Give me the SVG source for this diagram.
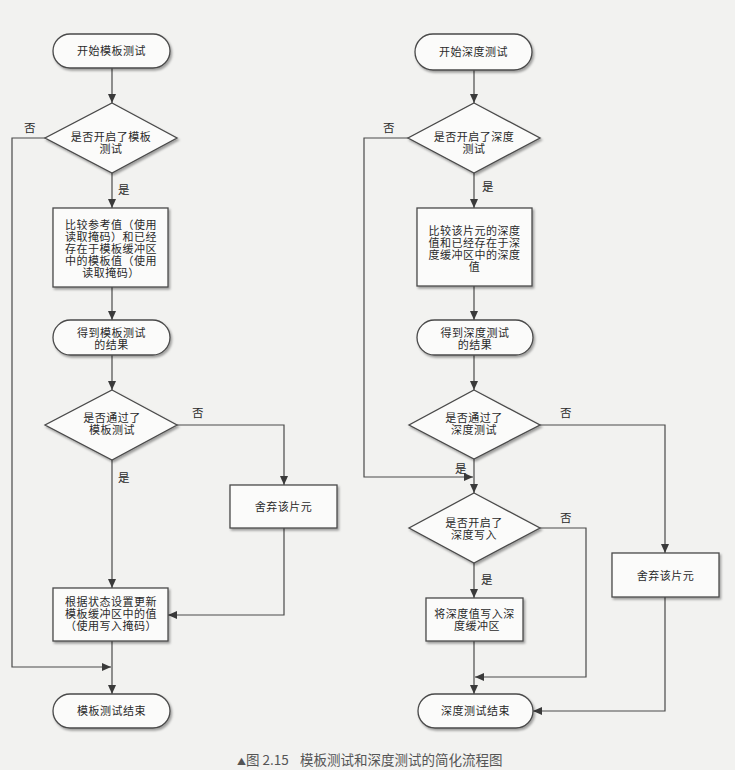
<svg xmlns="http://www.w3.org/2000/svg" width="735" height="770" viewBox="0 0 735 770">
  <style>
    .box { fill: #fbfbfa; stroke: #4a4a4a; stroke-width: 1.3; filter: url(#shadow); }
    .lbl { font-family: "Noto Sans CJK SC", "Noto Sans", sans-serif; font-size: 11px; letter-spacing: 0.5px; fill: #2a2a2a; text-anchor: middle; }
    .note { font-family: "Noto Sans CJK SC", "Noto Sans", sans-serif; font-size: 11.5px; fill: #2a2a2a; }
    .cap { font-family: "Noto Sans CJK SC", "Noto Sans", sans-serif; font-size: 13.5px; fill: #555; }
    .edge { fill: none; stroke: #4a4a4a; stroke-width: 1.2; }
  </style>
  <defs>
    <filter id="shadow" x="-10%" y="-10%" width="130%" height="140%">
      <feDropShadow dx="1.5" dy="2" stdDeviation="1.2" flood-color="#000" flood-opacity="0.35"/>
    </filter>
    <marker id="arrow" markerUnits="userSpaceOnUse" markerWidth="9" markerHeight="8" refX="9" refY="4" orient="auto">
      <path d="M0,0 L9,4 L0,8 z" fill="#3a3a3a"/>
    </marker>
  </defs>

  <rect width="735" height="770" fill="#f2f2f0"/>

  <!-- connectors -->
  <g id="connectors">
    <!-- stencil flow -->
    <path class="edge" d="M112,68 V103" marker-end="url(#arrow)"/>
    <path class="edge" d="M112,173 V208" marker-end="url(#arrow)"/>
    <path class="edge" d="M112,287 V320" marker-end="url(#arrow)"/>
    <path class="edge" d="M112,355 V390" marker-end="url(#arrow)"/>
    <path class="edge" d="M112,460 V588" marker-end="url(#arrow)"/>
    <path class="edge" d="M177,425 H284 V485" marker-end="url(#arrow)"/>
    <path class="edge" d="M284,528 V615 H168" marker-end="url(#arrow)"/>
    <path class="edge" d="M112,641 V694" marker-end="url(#arrow)"/>
    <path class="edge" d="M45,138 H12 V667 H111" marker-end="url(#arrow)"/>
    <!-- depth flow -->
    <path class="edge" d="M474,70 V103" marker-end="url(#arrow)"/>
    <path class="edge" d="M474,173 V208" marker-end="url(#arrow)"/>
    <path class="edge" d="M474,286 V320" marker-end="url(#arrow)"/>
    <path class="edge" d="M474,355 V390" marker-end="url(#arrow)"/>
    <path class="edge" d="M474,459 V493" marker-end="url(#arrow)"/>
    <path class="edge" d="M408,138 H364 V477 H473" marker-end="url(#arrow)"/>
    <path class="edge" d="M540,425 H665 V553" marker-end="url(#arrow)"/>
    <path class="edge" d="M474,563 V598" marker-end="url(#arrow)"/>
    <path class="edge" d="M540,528 H586 V677 H475" marker-end="url(#arrow)"/>
    <path class="edge" d="M474,641 V694" marker-end="url(#arrow)"/>
    <path class="edge" d="M665,597 V711 H533" marker-end="url(#arrow)"/>

    <!-- branch labels -->
    <text class="note" x="24" y="132">否</text>
    <text class="note" x="118" y="194">是</text>
    <text class="note" x="192" y="417">否</text>
    <text class="note" x="118" y="482">是</text>
    <text class="note" x="383" y="132">否</text>
    <text class="note" x="482" y="191">是</text>
    <text class="note" x="560" y="417">否</text>
    <text class="note" x="455" y="473">是</text>
    <text class="note" x="560" y="522">否</text>
    <text class="note" x="481" y="584">是</text>
  </g>

  <!-- stencil test column -->
  <g id="stencil-start">
    <rect class="box" x="53" y="34" width="117" height="34" rx="17"/>
    <text class="lbl" x="111.5" y="55">开始模板测试</text>
  </g>
  <g id="stencil-enabled">
    <polygon class="box" points="112,103 177,138 112,173 45,138"/>
    <text class="lbl" y="140.5"><tspan x="111">是否开启了模板</tspan><tspan x="111" dy="12">测试</tspan></text>
  </g>
  <g id="stencil-compare">
    <rect class="box" x="53" y="208" width="115" height="79"/>
    <text class="lbl" y="228.5"><tspan x="111">比较参考值（使用</tspan><tspan x="111" dy="12">读取掩码）和已经</tspan><tspan x="111" dy="12">存在于模板缓冲区</tspan><tspan x="111" dy="12">中的模板值（使用</tspan><tspan x="111" dy="12">读取掩码）</tspan></text>
  </g>
  <g id="stencil-result">
    <rect class="box" x="53" y="320" width="117" height="35" rx="17.5"/>
    <text class="lbl" y="336.5"><tspan x="111.5">得到模板测试</tspan><tspan x="111.5" dy="12">的结果</tspan></text>
  </g>
  <g id="stencil-passed">
    <polygon class="box" points="112,390 177,425 112,460 45,425"/>
    <text class="lbl" y="422"><tspan x="112">是否通过了</tspan><tspan x="112" dy="12">模板测试</tspan></text>
  </g>
  <g id="stencil-discard">
    <rect class="box" x="230" y="485" width="107" height="43"/>
    <text class="lbl" x="283.5" y="511">舍弃该片元</text>
  </g>
  <g id="stencil-update">
    <rect class="box" x="53" y="588" width="115" height="53"/>
    <text class="lbl" y="606"><tspan x="111">根据状态设置更新</tspan><tspan x="111" dy="12">模板缓冲区中的值</tspan><tspan x="111" dy="12">（使用写入掩码）</tspan></text>
  </g>
  <g id="stencil-end">
    <rect class="box" x="53" y="694" width="117" height="34" rx="17"/>
    <text class="lbl" x="111.5" y="715">模板测试结束</text>
  </g>

  <!-- depth test column -->
  <g id="depth-start">
    <rect class="box" x="415" y="34" width="117" height="36" rx="18"/>
    <text class="lbl" x="473.5" y="56">开始深度测试</text>
  </g>
  <g id="depth-enabled">
    <polygon class="box" points="474,103 540,138 474,173 408,138"/>
    <text class="lbl" y="140.5"><tspan x="474">是否开启了深度</tspan><tspan x="474" dy="12">测试</tspan></text>
  </g>
  <g id="depth-compare">
    <rect class="box" x="417" y="208" width="115" height="78"/>
    <text class="lbl" y="235"><tspan x="474.5">比较该片元的深度</tspan><tspan x="474.5" dy="12">值和已经存在于深</tspan><tspan x="474.5" dy="12">度缓冲区中的深度</tspan><tspan x="474.5" dy="12">值</tspan></text>
  </g>
  <g id="depth-result">
    <rect class="box" x="417" y="320" width="116" height="35" rx="17.5"/>
    <text class="lbl" y="336.5"><tspan x="475">得到深度测试</tspan><tspan x="475" dy="12">的结果</tspan></text>
  </g>
  <g id="depth-passed">
    <polygon class="box" points="474,390 540,425 474,459 409,425"/>
    <text class="lbl" y="422"><tspan x="474">是否通过了</tspan><tspan x="474" dy="12">深度测试</tspan></text>
  </g>
  <g id="depth-write-enabled">
    <polygon class="box" points="474,493 540,528 474,563 409,528"/>
    <text class="lbl" y="526.5"><tspan x="474">是否开启了</tspan><tspan x="474" dy="12">深度写入</tspan></text>
  </g>
  <g id="depth-write">
    <rect class="box" x="426" y="598" width="97" height="43"/>
    <text class="lbl" y="618"><tspan x="474.5">将深度值写入深</tspan><tspan x="477" dy="12">度缓冲区</tspan></text>
  </g>
  <g id="depth-discard">
    <rect class="box" x="612" y="553" width="107" height="44"/>
    <text class="lbl" x="665.5" y="579.5">舍弃该片元</text>
  </g>
  <g id="depth-end">
    <rect class="box" x="418" y="694" width="115" height="34" rx="17"/>
    <text class="lbl" x="475.5" y="715">深度测试结束</text>
  </g>

  <!-- figure caption -->
  <text class="cap" x="237" y="765"><tspan font-size="9">▲</tspan>图 2.15</text>
  <text class="cap" x="300" y="765">模板测试和深度测试的简化流程图</text>
</svg>
